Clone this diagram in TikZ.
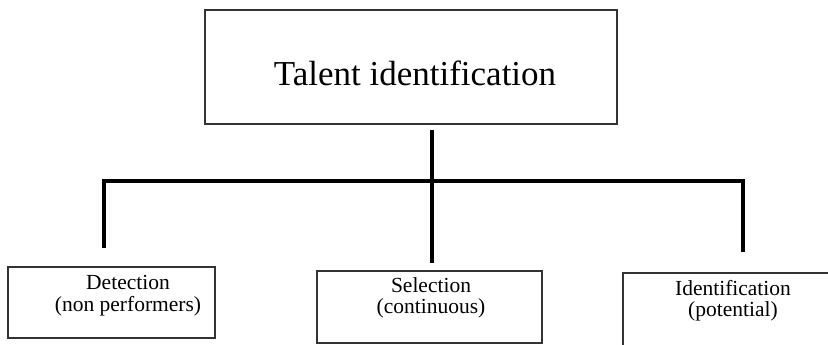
\documentclass[tikz,border=0pt]{standalone}
\usepackage{fontspec}
\setmainfont{Liberation Serif}
\begin{document}
\begin{tikzpicture}[x=1pt,y=-1pt,
  box/.style={draw=black!80,line width=1.2pt,rectangle,inner sep=0pt},
  conn/.style={line width=3.6pt,black},
  lbl/.style={inner sep=0pt,anchor=base,font=\fontsize{21.5}{26}\selectfont},
  ttl/.style={inner sep=0pt,anchor=base,font=\fontsize{35}{42}\selectfont}]
\useasboundingbox (0,0) rectangle (828,345);
\begin{scope}
\clip (0,0) rectangle (828,345);
\node[box,minimum width=412pt,minimum height=114pt] (top) at (411,67) {};
\node[box,minimum width=207pt,minimum height=71pt] (det) at (111.5,302.5) {};
\node[box,minimum width=225pt,minimum height=72pt] (sel) at (429.5,307) {};
\node[box,minimum width=207pt,minimum height=80pt] (ide) at (726.5,313) {};
\end{scope}
\node[ttl] (t1) at (415,85) {Talent identification};
\node[lbl] (d1) at (128,289) {Detection};
\node[lbl] (d2) at (128,311) {(non performers)};
\node[lbl] (s1) at (431,292) {Selection};
\node[lbl] (s2) at (431,313) {(continuous)};
\node[lbl] (i1) at (733,295) {Identification};
\node[lbl] (i2) at (733,316) {(potential)};
\coordinate (ts) at (432,130);
\coordinate (hj) at (432,181);
\coordinate (hl) at (104,181);
\coordinate (hr) at (743,181);
\coordinate (dn) at (104,248);
\coordinate (sn) at (432,263);
\coordinate (in) at (743,252);
\draw[conn] (ts) -- (hj) -- (sn);
\draw[conn] (dn) -- (hl) -- (hr) -- (in);
\end{tikzpicture}
\end{document}
